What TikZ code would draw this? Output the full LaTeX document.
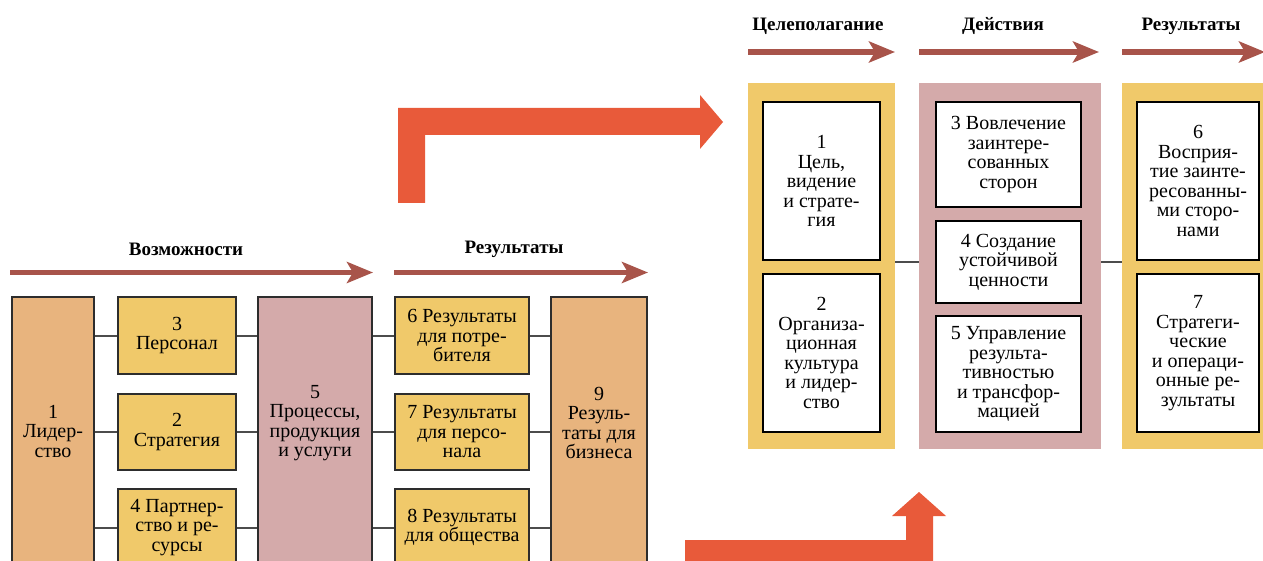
\documentclass[tikz,border=0pt]{standalone}
\usepackage{fontspec}
\setmainfont{Liberation Serif}
\usepackage{xcolor}
\usetikzlibrary{positioning,arrows.meta,calc}

\definecolor{tanfill}{RGB}{232,180,126}
\definecolor{yellowfill}{RGB}{240,201,106}
\definecolor{pinkfill}{RGB}{212,170,170}
\definecolor{flowred}{RGB}{168,84,74}
\definecolor{bigred}{RGB}{232,90,58}
\definecolor{edgegray}{RGB}{45,45,45}

\tikzset{
  box/.style={rectangle, draw=edgegray, line width=1.5pt, align=center, inner sep=0pt},
  whitebox/.style={rectangle, draw=black, fill=white, line width=1.5pt, align=center, inner sep=0pt},
  frame/.style={rectangle, inner sep=0pt},
  flow/.style={draw=flowred, line width=5.5pt, -{Stealth[length=26pt,width=21pt,inset=6pt]}},
  heading/.style={font=\bfseries\fontsize{19}{19}\selectfont},
  link/.style={draw=edgegray!85, line width=2pt},
  bigarrow/.style={fill=bigred}
}

\begin{document}
\begin{tikzpicture}[x=1pt, y=-1pt, font=\fontsize{20}{19.5}\selectfont]

\useasboundingbox (0,0) rectangle (1263,561);
\clip (0,0) rectangle (1263,561);

% Enablers and results (left)

\node[heading] (EnablerLabel) at (186,249) {Возможности};
\node[heading] (ResultLabel)  at (514,249) {Результаты};

\coordinate (EnablerStart) at (10,272.5);
\coordinate (EnablerEnd)   at (373,272.5);
\coordinate (ResultStart)  at (394,272.5);
\coordinate (ResultEnd)    at (648,272.5);

\node[box, fill=tanfill, minimum width=82pt, minimum height=268pt]   (LeaderNode)   at (53,431)    {1\\Лидер-\\ство};
\node[box, fill=yellowfill, minimum width=118pt, minimum height=77pt] (EnablerNode0) at (177,335.5) {3\\Персонал};
\node[box, fill=yellowfill, minimum width=118pt, minimum height=76pt] (EnablerNode1) at (177,432)   {2\\Стратегия};
\node[box, fill=yellowfill, minimum width=118pt, minimum height=77pt] (EnablerNode2) at (177,527.5) {4 Партнер-\\ство и ре-\\сурсы};
\node[box, fill=pinkfill, minimum width=114pt, minimum height=268pt,
      label={[align=center, yshift=8pt]center:{5\\Процессы,\\продукция\\и услуги}}] (ProcessNode) at (315,431) {};

\node[box, fill=yellowfill, minimum width=134pt, minimum height=77pt] (ResultNode0) at (462,335.5) {6 Результаты\\для потре-\\бителя};
\node[box, fill=yellowfill, minimum width=134pt, minimum height=76pt] (ResultNode1) at (462,432)   {7 Результаты\\для персо-\\нала};
\node[box, fill=yellowfill, minimum width=134pt, minimum height=77pt] (ResultNode2) at (462,527.5) {8 Результаты\\для общества};
\node[box, fill=tanfill, minimum width=96pt, minimum height=268pt,
      label={[align=center, yshift=8pt]center:{9\\Резуль-\\таты для\\бизнеса}}] (BusinessNode) at (599,431) {};

% Rows...

\draw[link] (EnablerNode0.west -| LeaderNode.east) -- (EnablerNode0.west);
\draw[link] (EnablerNode1.west -| LeaderNode.east) -- (EnablerNode1.west);
\draw[link] (EnablerNode2.west -| LeaderNode.east) -- (EnablerNode2.west);

\draw[link] (EnablerNode0.east) -- (EnablerNode0.east -| ProcessNode.west);
\draw[link] (EnablerNode1.east) -- (EnablerNode1.east -| ProcessNode.west);
\draw[link] (EnablerNode2.east) -- (EnablerNode2.east -| ProcessNode.west);

\draw[link] (ResultNode0.west -| ProcessNode.east) -- (ResultNode0.west);
\draw[link] (ResultNode1.west -| ProcessNode.east) -- (ResultNode1.west);
\draw[link] (ResultNode2.west -| ProcessNode.east) -- (ResultNode2.west);

\draw[link] (ResultNode0.east) -- (ResultNode0.east -| BusinessNode.west);
\draw[link] (ResultNode1.east) -- (ResultNode1.east -| BusinessNode.west);
\draw[link] (ResultNode2.east) -- (ResultNode2.east -| BusinessNode.west);

\draw[flow] (EnablerStart) -- (EnablerEnd);
\draw[flow] (ResultStart) -- (ResultEnd);

% Big arrows

\fill[bigarrow] (398,203) -- (398,108) -- (700,108) -- (700,95) -- (723,122) -- (700,149)
                -- (700,135) -- (425,135) -- (425,203) -- cycle;
\fill[bigarrow] (685,567) -- (685,540) -- (906,540) -- (906,516) -- (892,516) -- (919,492)
                -- (946,516) -- (933,516) -- (933,567) -- cycle;

% Goals, actions, outcomes (right)

\node[heading] (GoalLabel)    at (818,26)  {Целеполагание};
\node[heading] (ActionLabel)  at (1003,26) {Действия};
\node[heading] (OutcomeLabel) at (1191,26) {Результаты};

\coordinate (GoalStart)    at (748,52);
\coordinate (GoalEnd)      at (895,52);
\coordinate (ActionStart)  at (919,52);
\coordinate (ActionEnd)    at (1099,52);
\coordinate (OutcomeStart) at (1122,52);
\coordinate (OutcomeEnd)   at (1265,52);

\draw[flow] (GoalStart) -- (GoalEnd);
\draw[flow] (ActionStart) -- (ActionEnd);
\draw[flow] (OutcomeStart) -- (OutcomeEnd);

\node[frame, fill=yellowfill, minimum width=147pt, minimum height=366pt] (GoalFrame)    at (821.5,266) {};
\node[frame, fill=pinkfill,   minimum width=182pt, minimum height=366pt] (ActionFrame)  at (1010,266)  {};
\node[frame, fill=yellowfill, minimum width=152pt, minimum height=366pt] (OutcomeFrame) at (1198,266)  {};

\node[whitebox, minimum width=117pt, minimum height=158pt] (GoalNode0) at (821.5,181) {1\\Цель,\\видение\\и страте-\\гия};
\node[whitebox, minimum width=117pt, minimum height=158pt] (GoalNode1) at (821.5,353) {2\\Организа-\\ционная\\культура\\и лидер-\\ство};

\node[whitebox, minimum width=145pt, minimum height=105pt] (ActionNode0) at (1008.5,154.5) {3 Вовлечение\\заинтере-\\сованных\\сторон};
\node[whitebox, minimum width=145pt, minimum height=82pt]  (ActionNode1) at (1008.5,262)   {4 Создание\\устойчивой\\ценности};
\node[whitebox, minimum width=145pt, minimum height=116pt] (ActionNode2) at (1008.5,374)   {5 Управление\\результа-\\тивностью\\и трансфор-\\мацией};

\node[whitebox, minimum width=122pt, minimum height=158pt] (OutcomeNode0) at (1198,181) {6\\Восприя-\\тие заинте-\\ресованны-\\ми сторо-\\нами};
\node[whitebox, minimum width=122pt, minimum height=158pt] (OutcomeNode1) at (1198,353) {7\\Стратеги-\\ческие\\и операци-\\онные ре-\\зультаты};

\draw[link] (GoalFrame.east |- ActionNode1.west) -- (ActionFrame.west |- ActionNode1.west);
\draw[link] (ActionFrame.east |- ActionNode1.east) -- (OutcomeFrame.west |- ActionNode1.east);

\end{tikzpicture}
\end{document}
